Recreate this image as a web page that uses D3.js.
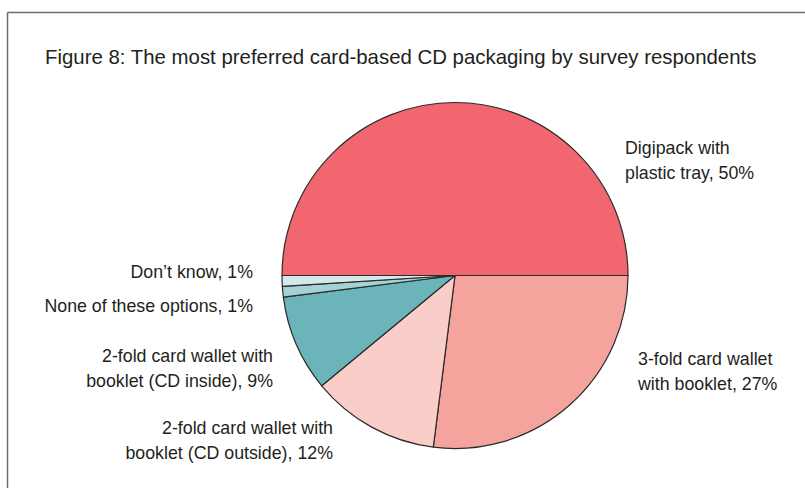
<!DOCTYPE html>
<html>
<head>
<meta charset="utf-8">
<script src="https://cdn.jsdelivr.net/npm/d3@7"></script>
<style>
  html, body { margin: 0; padding: 0; background: #fff; }
  svg { display: block; }
  text { font-family: "Liberation Sans", Arial, sans-serif; fill: #231f20; }
</style>
</head>
<body>
<svg id="chart" width="805" height="488"></svg>
<script>
// Survey shares, in drawing order (clockwise from 3 o'clock)
const categories = [
  "3-fold card wallet with booklet",
  "2-fold card wallet with booklet (CD outside)",
  "2-fold card wallet with booklet (CD inside)",
  "None of these options",
  "Don\u2019t know",
  "Digipack with plastic tray"
];
const shares = [27, 12, 9, 1, 1, 50];
const sliceColors = ["#f4a39d", "#f9cec8", "#6bb5ba", "#a6d1d5", "#d3e9ec", "#f1666f"];
const labelLines = [
  ["3-fold card wallet", "with booklet, 27%"],
  ["2-fold card wallet with", "booklet (CD outside), 12%"],
  ["2-fold card wallet with", "booklet (CD inside), 9%"],
  ["None of these options, 1%"],
  ["Don\u2019t know, 1%"],
  ["Digipack with", "plastic tray, 50%"]
];
const title = "Figure 8: The most preferred card-based CD packaging by survey respondents";

const svg = d3.select("#chart");

// Frame: top rule and left rule
svg.append("line").attr("x1", 7.5).attr("x2", 805).attr("y1", 12.5).attr("y2", 12.5)
  .attr("stroke", "#6d6d6d").attr("stroke-width", 1.5);
svg.append("line").attr("x1", 7.5).attr("x2", 7.5).attr("y1", 12.5).attr("y2", 488)
  .attr("stroke", "#6d6d6d").attr("stroke-width", 1.5);

svg.append("text").attr("x", 45).attr("y", 64)
  .attr("font-size", 20.4).text(title);

const cx = 455, cy = 275.5, r = 173;

const pie = d3.pie().sort(null).value(d => d)
  .startAngle(Math.PI / 2).endAngle(Math.PI / 2 + 2 * Math.PI);
const arcs = pie(shares);
const arc = d3.arc().innerRadius(0).outerRadius(r);

const g = svg.append("g").attr("transform", `translate(${cx},${cy})`);
g.selectAll("path").data(arcs).join("path")
  .attr("d", arc)
  .attr("fill", (d, i) => sliceColors[i])
  .attr("stroke", "#2b2b2b")
  .attr("stroke-width", 1.2)
  .attr("stroke-linejoin", "round");

// Label placement: anchor point and alignment per slice
const labelPos = [
  { x: 638, y: 365, anchor: "start" },
  { x: 333, y: 434, anchor: "end" },
  { x: 273, y: 362, anchor: "end" },
  { x: 253, y: 312, anchor: "end" },
  { x: 253, y: 278, anchor: "end" },
  { x: 625, y: 154, anchor: "start" }
];
const lineGap = 25;

labelLines.forEach((lines, i) => {
  const p = labelPos[i];
  const t = svg.append("text")
    .attr("x", p.x).attr("y", p.y)
    .attr("text-anchor", p.anchor)
    .attr("font-size", 17.8);
  lines.forEach((ln, k) => {
    t.append("tspan").attr("x", p.x).attr("dy", k === 0 ? 0 : lineGap).text(ln);
  });
});
</script>
</body>
</html>
